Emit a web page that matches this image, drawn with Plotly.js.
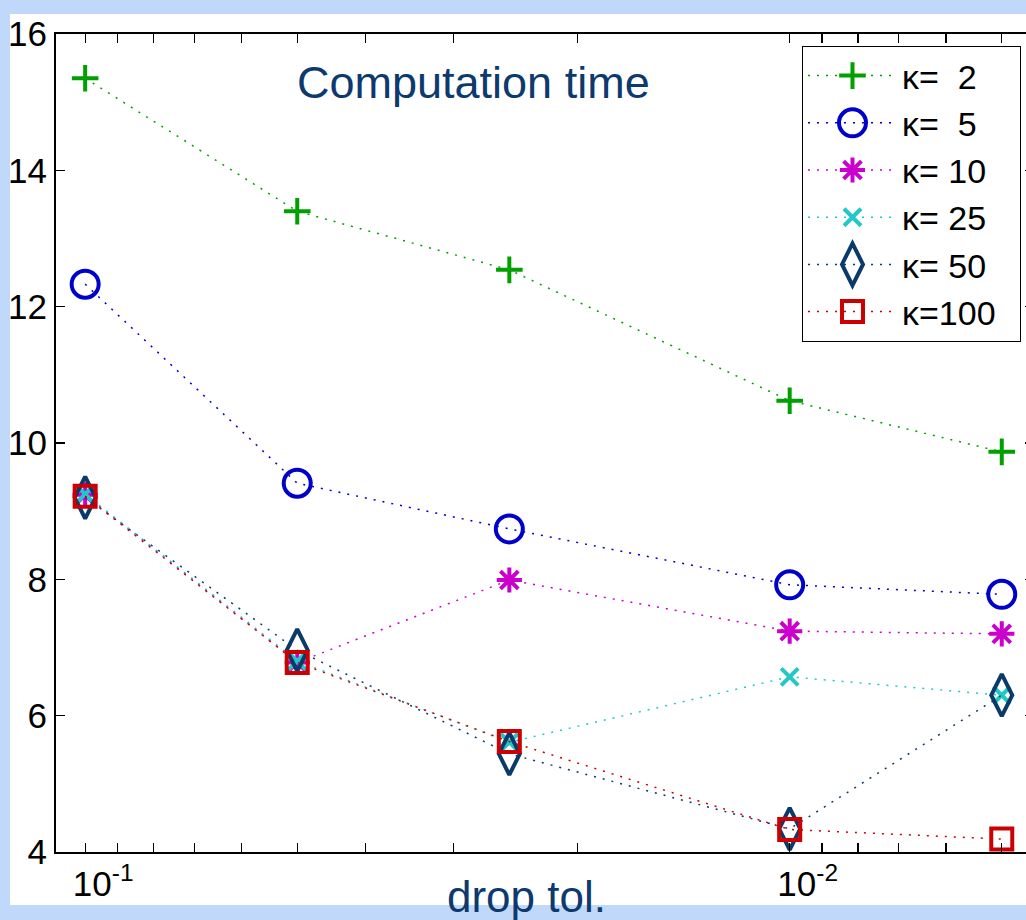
<!DOCTYPE html>
<html><head><meta charset="utf-8">
<script src="https://cdn.plot.ly/plotly-3.0.1.min.js"></script>
<style>
html,body{margin:0;padding:0;overflow:hidden;background:#c0d8fa;width:1026px;height:920px;}
#panel{position:absolute;left:10px;top:14px;width:1100px;height:891px;background:#fff;}
#plot{position:absolute;left:0;top:0;width:1060px;height:920px;}
</style></head><body>
<div id="panel"></div><div id="plot"></div>
<script>
const dropTol = [0.1, 0.05, 0.025, 0.01, 0.005];
const kappa2   = [15.35, 13.40, 12.54, 10.62, 9.87];
const kappa5   = [12.33, 9.41, 8.74, 7.92, 7.78];
const kappa10  = [9.24, 6.78, 7.99, 7.24, 7.20];
const kappa25  = [9.25, 6.80, 5.61, 6.57, 6.30];
const kappa50  = [9.20, 6.96, 5.44, 4.34, 6.30];
const kappa100 = [9.22, 6.78, 5.62, 4.33, 4.19];
const seriesNames = ['\u03ba=\u00a0\u00a02', '\u03ba=\u00a0\u00a05', '\u03ba=\u00a010', '\u03ba=\u00a025', '\u03ba=\u00a050', '\u03ba=100'];
const seriesValues = [kappa2, kappa5, kappa10, kappa25, kappa50, kappa100];
const colors = ['#00a000', '#0000cc', '#cc00cc', '#22c8c8', '#0a3a6a', '#cc0000'];
const symbols = ['cross-thin-open', 'circle-open', 'asterisk-open', 'x-thin-open', 'diamond-tall-open', 'square-open'];
const sizes = [19, 27, 21, 17, 30, 21];
const xTickVals = [0.1, 0.01];
const xTickText = ['10<sup>-1</sup>', '10<sup>-2</sup>'];
const xMinorVals = [0.09, 0.08, 0.07, 0.06, 0.05, 0.04, 0.03, 0.02, 0.009, 0.008, 0.007, 0.006, 0.005];

const traces = seriesValues.map((vals, i) => ({
  x: dropTol, y: vals, name: seriesNames[i] + '\u00a0\u00a0', type: 'scatter', mode: 'lines+markers',
  line: {color: colors[i], width: 1.5, dash: '2px,7px'},
  marker: {symbol: symbols[i], size: sizes[i], color: colors[i], line: {color: colors[i], width: 4}}
}));

const font = 'Liberation Sans, Arial, sans-serif';
const xRange = [Math.log10(0.11), Math.log10(0.0045)];
const plotHeightPx = 920 - 34 - 68;
// mirrored tick marks along the top edge of the axes box (shape x on a log axis is given in log10 units)
const topTicks = xTickVals.concat(xMinorVals).map(v => ({
  type: 'line', xref: 'x', yref: 'paper', x0: Math.log10(v), x1: Math.log10(v), y0: 1, y1: 1 - 9 / plotHeightPx,
  line: {color: '#000', width: 1.2}
}));
const layout = {
  width: 1060, height: 920,
  margin: {l: 56, r: 26, t: 34, b: 68},
  paper_bgcolor: 'rgba(0,0,0,0)', plot_bgcolor: '#ffffff',
  showlegend: true,
  font: {family: font, color: '#000', size: 34},
  xaxis: {
    type: 'log', range: xRange,
    tickmode: 'array', tickvals: xTickVals, ticktext: xTickText,
    ticks: 'inside', ticklen: 9, tickwidth: 1.2, tickcolor: '#000',
    showline: true, linecolor: '#000', linewidth: 2, mirror: 'allticks',
    showgrid: false, zeroline: false, ticklabelstandoff: 0, ticklabelshift: -18,
    tickfont: {family: font, size: 35, color: '#000'},
    minor: {tickmode: 'array', tickvals: xMinorVals, ticks: 'inside', ticklen: 9, tickwidth: 1.2, tickcolor: '#000', showgrid: false}
  },
  yaxis: {
    range: [4, 16], dtick: 2, tick0: 4,
    ticks: 'inside', ticklen: 9, tickwidth: 1.2, tickcolor: '#000',
    showline: true, linecolor: '#000', linewidth: 2, mirror: 'allticks',
    showgrid: false, zeroline: false,
    tickfont: {family: font, size: 35, color: '#000'}
  },
  legend: {
    x: 0.9867, xanchor: 'right', y: 0.9853, yanchor: 'top',
    bgcolor: '#ffffff', bordercolor: '#000', borderwidth: 1,
    font: {family: font, size: 34, color: '#000'},
    itemwidth: 89
  },
  shapes: topTicks,
  annotations: [
    {text: 'Computation time', xref: 'paper', yref: 'paper', x: 0.4274, y: 0.9413,
     xanchor: 'center', yanchor: 'middle', showarrow: false,
     font: {family: font, size: 45, color: '#0d3a6e'}},
    {text: 'drop tol.', xref: 'paper', yref: 'paper', x: 0.4806, y: -0.022,
     xanchor: 'center', yanchor: 'top', showarrow: false,
     font: {family: font, size: 44, color: '#0d3a6e'}}
  ]
};
Plotly.newPlot('plot', traces, layout, {displayModeBar: false, staticPlot: true}).then(gd => {
  gd.querySelectorAll('.legend .traces').forEach((g, i) => {
    const s = sizes[i] / Math.min(sizes[i], 16);
    g.querySelectorAll('.legendpoints path.scatterpts').forEach(p => {
      const t = p.getAttribute('transform') || '';
      p.setAttribute('transform', t + ' scale(' + s + ')');
      p.style.vectorEffect = 'non-scaling-stroke';
    });
  });
});
</script></body></html>
